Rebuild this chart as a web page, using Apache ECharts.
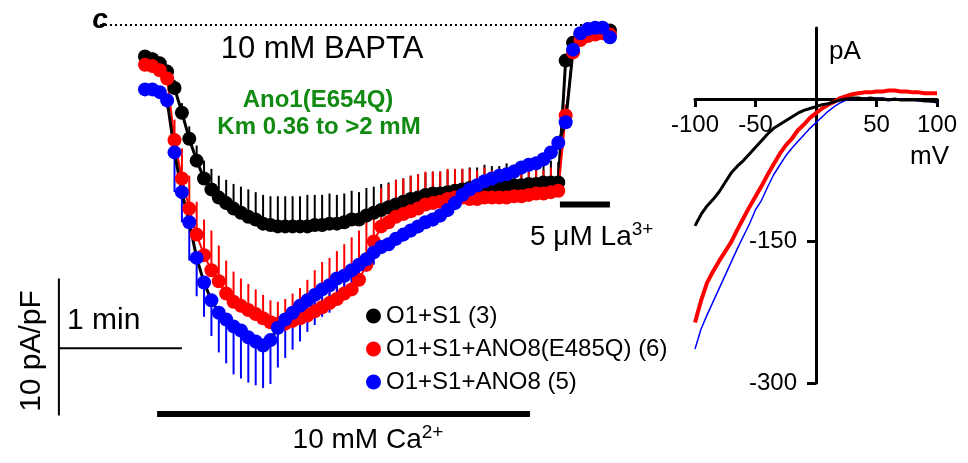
<!DOCTYPE html>
<html>
<head>
<meta charset="utf-8">
<title>Ano1(E654Q) Ca2+ activated current</title>
<script src="https://cdn.jsdelivr.net/npm/echarts@6/dist/echarts.min.js"></script>
<style>
  html, body { margin: 0; padding: 0; background: #fff; }
  #chart { width: 968px; height: 463px; }
</style>
</head>
<body>
<div id="chart"></div>
<script>
// time course, current density in pA/pF, one point every 3.6 s
const sampleSec = 3.6;

const seriesNames = ['O1+S1 (3)', 'O1+S1+ANO8(E485Q) (6)', 'O1+S1+ANO8 (5)'];

const blackMean = [-2.3, -2.5, -2.8, -3.4, -4.6, -6.4, -8.3, -9.9, -11.2, -12.0,
  -12.6, -13.0, -13.4, -13.7, -14.0, -14.2, -14.5, -14.6, -14.7, -14.7,
  -14.7, -14.7, -14.7, -14.6, -14.6, -14.5, -14.5, -14.4, -14.2, -14.2,
  -13.9, -13.7, -13.5, -13.3, -13.1, -12.9, -12.7, -12.6, -12.4, -12.3,
  -12.3, -12.2, -12.1, -12.0, -11.9, -11.9, -11.8, -11.8, -11.8, -11.7,
  -11.7, -11.7, -11.6, -11.6, -11.5, -11.5, -11.5, -2.6, -1.3, -0.7,
  -0.4, -0.4, -0.4, -0.4];
const blackSem = [0.3, 0.5, 0.4, 0.5, 0.6, 0.7, 0.9, 1.1, 1.3, 1.5,
  1.6, 1.7, 1.8, 1.9, 2.0, 2.0, 2.1, 2.1, 2.2, 2.2,
  2.2, 2.2, 2.3, 2.2, 2.2, 2.2, 2.1, 2.1, 2.1, 2.0,
  2.0, 1.9, 1.9, 1.8, 1.8, 1.7, 1.7, 1.7, 1.6, 1.6,
  1.6, 1.6, 1.5, 1.5, 1.5, 1.5, 1.6, 1.5, 1.5, 1.6,
  1.5, 1.5, 1.6, 1.5, 1.5, 1.6, 1.5, 0.4, 0.3, 0.3,
  0.3, 0.3, 0.3, 0.3];

const redMean = [-2.9, -3.0, -3.3, -3.9, -8.4, -11.2, -13.4, -15.3, -16.8, -17.9,
  -18.7, -19.6, -20.2, -20.5, -20.8, -21.1, -21.4, -21.7, -21.8, -21.8,
  -21.6, -21.4, -21.2, -20.9, -20.6, -20.3, -20.0, -19.6, -19.3, -18.6,
  -17.5, -15.8, -14.7, -14.4, -14.0, -13.8, -13.6, -13.4, -13.1, -13.0,
  -12.9, -12.7, -12.6, -12.6, -12.7, -12.7, -12.6, -12.6, -12.6, -12.6,
  -12.5, -12.5, -12.4, -12.3, -12.3, -12.2, -12.1, -6.6, -2.0, -1.1,
  -0.8, -0.7, -0.6, -0.7];
const redSem = [0.4, 0.4, 0.4, 0.6, 1.5, 2.2, 2.4, 2.4, 2.6, 2.9,
  2.6, 2.4, 2.2, 2.0, 1.9, 1.8, 1.7, 1.6, 1.6, 1.8,
  2.0, 2.2, 2.6, 3.0, 3.3, 3.3, 3.5, 3.6, 3.8, 3.6,
  3.4, 2.6, 2.8, 2.8, 2.7, 2.6, 2.6, 2.5, 2.4, 2.3,
  2.2, 2.2, 2.1, 2.1, 2.2, 2.1, 2.2, 2.0, 2.1, 2.0,
  1.9, 2.0, 1.8, 1.9, 1.7, 1.8, 1.6, 0.8, 0.4, 0.3,
  0.3, 0.3, 0.3, 0.3];

const blueMean = [-4.7, -4.7, -4.9, -5.5, -9.3, -12.2, -14.4, -17.0, -18.8, -20.1,
  -21.0, -21.5, -22.0, -22.3, -22.8, -23.1, -23.4, -23.0, -22.1, -21.5,
  -21.0, -20.5, -20.1, -19.7, -19.3, -19.0, -18.5, -18.3, -17.9, -17.5,
  -17.1, -16.6, -16.2, -16.0, -15.6, -15.3, -15.0, -14.7, -14.4, -14.2,
  -13.9, -13.5, -13.0, -12.4, -12.0, -11.7, -11.4, -11.2, -11.0, -10.9,
  -10.7, -10.4, -10.2, -10.1, -9.8, -9.3, -8.6, -7.1, -1.8, -0.6,
  -0.3, -0.2, -0.2, -0.9];
const blueSem = [0.4, 0.4, 0.4, 0.6, 2.9, 2.2, 2.8, 2.8, 2.5, 2.6,
  2.9, 3.2, 3.5, 3.5, 3.3, 3.2, 3.1, 3.2, 2.9, 2.8,
  2.7, 2.6, 2.3, 2.2, 2.0, 2.0, 1.8, 1.6, 1.3, 1.1,
  0.9, 0.9, 0.5, 0.5, 0.5, 0.5, 0.5, 0.5, 0.5, 0.5,
  0.5, 0.5, 0.5, 0.5, 0.5, 0.5, 0.5, 0.5, 0.5, 0.5,
  0.5, 0.5, 0.5, 0.5, 0.5, 0.5, 0.5, 0.3, 0.3, 0.3,
  0.3, 0.3, 0.3, 0.3];

// I-V ramps, pA vs mV
const ivVoltage = [-100, -95, -90, -85, -80, -75, -70, -65, -60, -55, -50, -45, -40, -35, -30,
  -25, -20, -15, -10, -5, 0, 5, 10, 15, 20, 25, 30, 35, 40, 45, 50, 55, 60, 65, 70, 75,
  80, 85, 90, 95, 100];
const ivBlack = [-134, -122, -113, -106, -98, -88, -78, -71, -65, -58, -51, -44, -37, -31, -27,
  -23, -19, -15, -12, -10, -8, -6, -5, -3, -1, 0, 1, 1, 0, 1, 0, 0, -1, 0, -1, -1,
  -1, -1, -2, -2, -3];
const ivRed = [-236, -213, -194, -182, -171, -161, -151, -138, -126, -114, -103, -92, -80, -69, -58,
  -49, -42, -33, -27, -20, -15, -10, -6, -3, 1, 3, 5, 6, 7, 7, 8, 8, 9, 9, 8, 8,
  7, 7, 6, 6, 6];
const ivBlue = [-264, -243, -228, -214, -200, -186, -172, -158, -145, -132, -117, -107, -93, -80, -70,
  -60, -52, -45, -38, -31, -25, -19, -13, -8, -4, -1, 0, 1, 1, 1, 1, 1, 0, 0, 0, -1,
  -1, -2, -2, -3, -4];

// scale bars and solution bars, in time (s) and pA/pF
const scaleX = -42;
const scaleTop = -18.5, scaleBottom = -28.5;
const minuteY = -23.6, minuteEnd = 18;
const caBar = [5.9, 187.8], caY = -28.4;
const laBar = [202.4, 226.8], laY = -13.1;
const baseline = [-24.4, 226.8];

const time = blackMean.map((_, i) => +(i * sampleSec).toFixed(1));
const pairs = (xs, ys) => ys.map((v, i) => [xs[i], v]);

const font = '"Liberation Sans", Arial, sans-serif';
const green = '#138a13';

// I-V grid, axes cross at 0 mV / 0 pA
const ivGrid = { left: 695, top: 28, width: 242, height: 355 };
const ivX = [-100, 100], ivY = [-300, 75];
const zeroRow = ivGrid.height * ivY[1] / (ivY[1] - ivY[0]);
const zeroCol = ivGrid.width * (0 - ivX[0]) / (ivX[1] - ivX[0]);

function errBars(mean, sem, dir, color) {
  return {
    type: 'custom',
    xAxisIndex: 0,
    yAxisIndex: 0,
    silent: true,
    encode: { x: 0, y: 1 },
    data: mean.map((v, i) => [time[i], v, sem[i]]),
    renderItem: (params, api) => {
      const p0 = api.coord([api.value(0), api.value(1)]);
      const p1 = api.coord([api.value(0), api.value(1) + dir * api.value(2)]);
      return {
        type: 'line',
        shape: { x1: p0[0], y1: p0[1], x2: p1[0], y2: p1[1] },
        style: { stroke: color, lineWidth: 2 }
      };
    }
  };
}

function dots(name, mean, color, lineColor, lineWidth) {
  return {
    type: 'line',
    name: name,
    xAxisIndex: 0,
    yAxisIndex: 0,
    data: pairs(time, mean),
    symbol: 'circle',
    symbolSize: 14,
    itemStyle: { color: color },
    lineStyle: { color: lineColor, width: lineWidth },
    clip: false
  };
}

function bar(xs, ys, width, type) {
  return {
    type: 'line',
    xAxisIndex: 0,
    yAxisIndex: 0,
    data: pairs(xs, ys),
    symbol: 'none',
    silent: true,
    clip: false,
    lineStyle: { color: '#000', width: width, type: type || 'solid' }
  };
}

function ivLine(data, color, width) {
  return {
    type: 'line',
    xAxisIndex: 1,
    yAxisIndex: 1,
    data: pairs(ivVoltage, data),
    showSymbol: false,
    symbol: 'none',
    lineStyle: { color: color, width: width }
  };
}

function label(text, x, y, size, extra) {
  return {
    type: 'text',
    x: x,
    y: y,
    style: Object.assign({
      text: text,
      fontSize: size,
      fontFamily: font,
      fill: '#000',
      textAlign: 'center',
      textVerticalAlign: 'middle'
    }, extra || {})
  };
}

const chart = echarts.init(document.getElementById('chart'));

const option = {
  animation: false,
  textStyle: { fontFamily: font },
  grid: [
    { left: 22, top: 25, width: 615, height: 411 },
    ivGrid
  ],
  xAxis: [
    { type: 'value', gridIndex: 0, min: -60, max: 240, show: false },
    {
      type: 'value', gridIndex: 1, min: ivX[0], max: ivX[1], interval: 50,
      position: 'bottom',
      offset: -(ivGrid.height - zeroRow),
      axisLine: { onZero: false, lineStyle: { color: '#000', width: 3 } },
      axisTick: { length: 8, lineStyle: { color: '#000', width: 3 } },
      axisLabel: {
        color: '#000', fontSize: 24, margin: 14,
        formatter: v => (v === 0 ? '' : v)
      },
      splitLine: { show: false }
    }
  ],
  yAxis: [
    { type: 'value', gridIndex: 0, min: -30, max: 0, show: false },
    {
      type: 'value', gridIndex: 1, min: ivY[0], max: ivY[1], interval: 150,
      position: 'left',
      offset: -zeroCol,
      axisLine: { onZero: false, lineStyle: { color: '#000', width: 3 } },
      axisTick: { length: 9, lineStyle: { color: '#000', width: 3 } },
      axisLabel: {
        color: '#000', fontSize: 24, margin: 19, showMaxLabel: false,
        formatter: v => (v >= 0 ? '' : v)
      },
      splitLine: { show: false }
    }
  ],
  legend: {
    data: seriesNames,
    orient: 'vertical',
    left: 361,
    top: 299,
    icon: 'circle',
    itemWidth: 15,
    itemHeight: 15,
    itemGap: 9,
    selectedMode: false,
    textStyle: { color: '#000', fontSize: 24, fontFamily: font }
  },
  series: [
    bar(baseline, [0, 0], 2, [2, 3]),
    bar([scaleX, scaleX], [scaleTop, scaleBottom], 2),
    bar([scaleX, minuteEnd], [minuteY, minuteY], 2),
    bar(caBar, [caY, caY], 6),
    bar(laBar, [laY, laY], 6),

    errBars(blackMean, blackSem, 1, '#000'),
    dots(seriesNames[0], blackMean, '#000', '#000', 3),
    errBars(redMean, redSem, 1, '#ff0000'),
    dots(seriesNames[1], redMean, '#ff0000', '#ff0000', 2),
    errBars(blueMean, blueSem, -1, '#0000ff'),
    dots(seriesNames[2], blueMean, '#0000ff', '#000', 3),

    ivLine(ivRed, '#ff0000', 4),
    ivLine(ivBlue, '#0000ff', 1.5),
    ivLine(ivBlack, '#000', 3)
  ],
  graphic: [
    label('c', 100, 20, 28, { fontWeight: 'bold', fontStyle: 'italic' }),
    label('10 mM BAPTA', 322, 49, 31),
    label('Ano1(E654Q)', 318, 100, 24, { fill: green, fontWeight: 'bold' }),
    label('Km 0.36 to >2 mM', 319, 127, 24, { fill: green, fontWeight: 'bold' }),
    label('1 min', 67, 321, 30, { textAlign: 'left' }),
    Object.assign(label('10 pA/pF', 0, 0, 30), { x: 32, y: 351, rotation: Math.PI / 2 }),
    label('10 mM Ca{sup|2+}', 368, 440, 28, {
      rich: { sup: { fontSize: 19, fontFamily: font, verticalAlign: 'top', padding: [0, 0, 14, 0] } }
    }),
    label('5 μM La{sup|3+}', 530, 237, 28, {
      textAlign: 'left',
      rich: { sup: { fontSize: 19, fontFamily: font, verticalAlign: 'top', padding: [0, 0, 14, 0] } }
    }),
    label('pA', 829, 52, 26, { textAlign: 'left' }),
    label('mV', 910, 157, 26, { textAlign: 'left' })
  ]
};

chart.setOption(option);
</script>
</body>
</html>
